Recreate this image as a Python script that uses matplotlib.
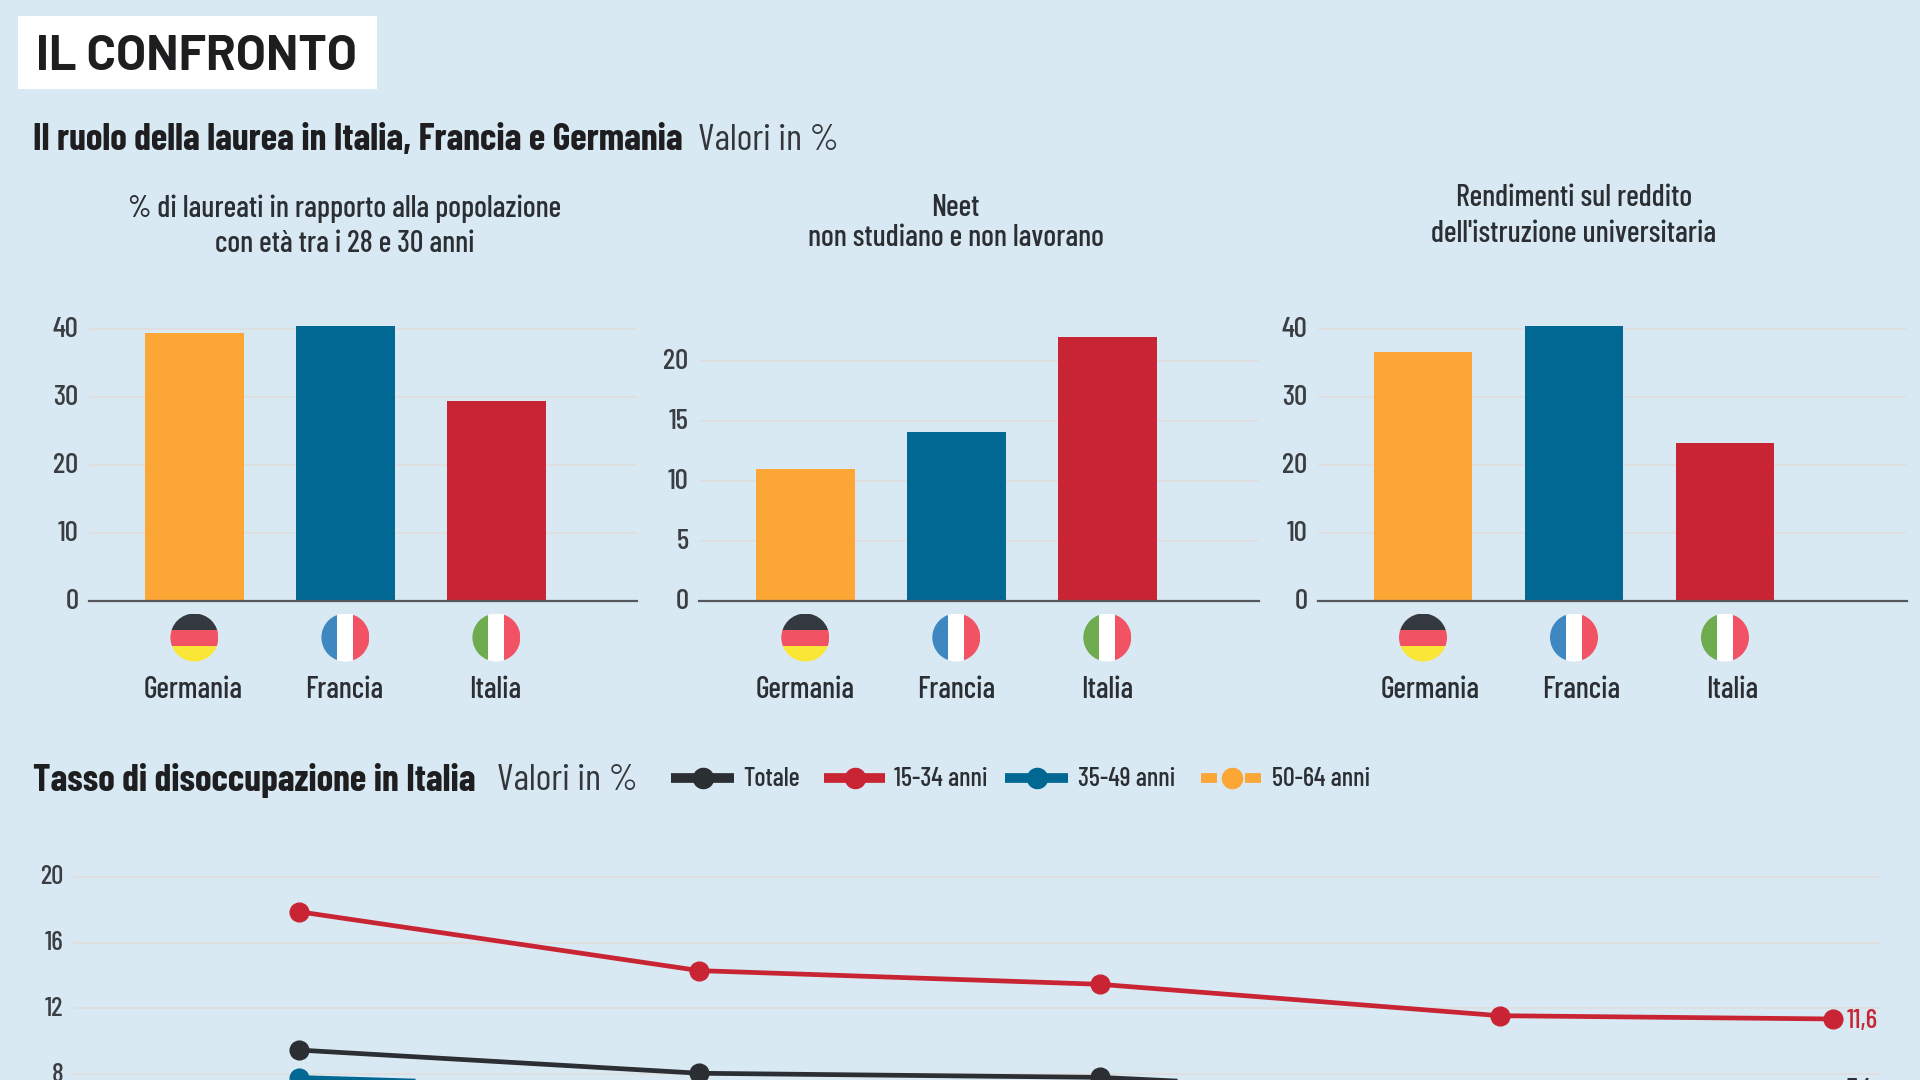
import matplotlib
matplotlib.use("Agg")
import matplotlib.pyplot as plt
from matplotlib.lines import Line2D
from matplotlib.patches import Circle, Rectangle
from matplotlib.transforms import ScaledTranslation

BODY = ["Barlow Condensed", "Roboto Condensed", "DejaVu Sans"]
HEAD = ["Barlow", "Inter", "DejaVu Sans"]

BG = "#D8E9F3"
ORANGE = "#FBA635"
BLUE = "#006893"
RED = "#C92433"
DARK = "#2B2E33"
GRID = "#DFDFE0"

countries = ["Germania", "Francia", "Italia"]
bar_colors = [ORANGE, BLUE, RED]

laureati = [39.4, 40.5, 29.4]
neet = [11.0, 14.1, 22.0]
rendimenti = [36.6, 40.5, 23.3]

laureati_ticks = [0, 10, 20, 30, 40]
neet_ticks = [0, 5, 10, 15, 20]
rendimenti_ticks = [0, 10, 20, 30, 40]

# months from the first reading, the x labels are cut off in the picture
periods = [0, 6, 12, 18, 23]
totale = [9.46, 8.05, 7.8, 6.63, 7.05]
anni_15_34 = [17.87, 14.29, 13.46, 11.55, 11.35]
anni_35_49 = [7.79, 7.05, 6.5, 5.8, 5.4]
anni_50_64 = [5.2, 4.8, 4.6, 4.0, 3.9]
line_ticks = [8, 12, 16, 20]
label_15_34 = "11,6"
label_totale = "7,4"

W, H = 1920, 1080

plt.rcParams["font.family"] = BODY
fig = plt.figure(figsize=(W / 100, H / 100), dpi=100, facecolor=BG)
raise_labels = ScaledTranslation(0, 1.4 / 72, fig.dpi_scale_trans)


def axes_px(x0, x1, y_top, y_bottom):
    a = fig.add_axes([x0 / W, 1 - y_bottom / H, (x1 - x0) / W, (y_bottom - y_top) / H])
    a.set_facecolor("none")
    for s in a.spines.values():
        s.set_visible(False)
    a.set_axisbelow(True)
    a.grid(axis="y", color=GRID, linewidth=1.4)
    a.set_xticks([])
    return a


def bar_panel(x0, x1, first_center, values, ticks, ymax, y_top, lab_pad):
    a = axes_px(x0, x1, y_top, 600.7)
    a.bar(range(3), values, width=0.655, color=bar_colors)
    a.set_xlim((x0 - first_center) / 151, (x1 - first_center) / 151)
    a.set_ylim(0, ymax)
    a.set_yticks(ticks)
    a.tick_params(axis="y", length=0, pad=lab_pad, labelsize=21, labelcolor="#3A3D42")
    for lab in a.get_yticklabels():
        lab.set_fontweight("medium")
        lab.set_transform(lab.get_transform() + raise_labels)
    a.spines["bottom"].set_visible(True)
    a.spines["bottom"].set_color("#55595E")
    a.spines["bottom"].set_linewidth(1.6)
    return a


ax1 = bar_panel(88.8, 636.6, 194.4, laureati, laureati_ticks, 44, 302.2, 7.5)
ax2 = bar_panel(699, 1258.7, 805.3, neet, neet_ticks, 24, 312.7, 7.5)
ax3 = bar_panel(1318, 1906.5, 1423, rendimenti, rendimenti_ticks, 44, 302.2, 7.5)

# line chart runs past the bottom edge of the picture, as in the reference
ax4 = axes_px(73, 1880, 868.5, 1080)
ax4.set_xlim(-3.39, 23.7)
ax4.set_ylim(7.64, 20.5)
ax4.set_yticks(line_ticks)
ax4.tick_params(axis="y", length=0, pad=7, labelsize=19.5, labelcolor="#3A3D42")
for lab in ax4.get_yticklabels():
    lab.set_fontweight("medium")
    lab.set_clip_on(False)
    lab.set_transform(lab.get_transform() + raise_labels)
ax4.plot(periods, anni_50_64, color=ORANGE, lw=3.4, marker="o", ms=13.5, ls=(0, (3, 2)))
ax4.plot(periods, anni_35_49, color=BLUE, lw=3.4, marker="o", ms=13.5)
ax4.plot(periods, totale, color=DARK, lw=3.4, marker="o", ms=13.5)
ax4.plot(periods, anni_15_34, color=RED, lw=3.4, marker="o", ms=13.5)
ax4.annotate(label_15_34, (periods[-1], anni_15_34[-1]), xytext=(9.5, -1.5), textcoords="offset points",
             color=RED, fontsize=19.5, fontweight="medium", va="center", annotation_clip=False)
ax4.annotate(label_totale, (periods[-1], totale[-1]), xytext=(9.5, 0), textcoords="offset points",
             color=DARK, fontsize=19.5, fontweight="medium", va="center", annotation_clip=False)

# overlay in picture pixels for header, flags and legend
ov = fig.add_axes([0, 0, 1, 1], zorder=5)
ov.set_xlim(0, W)
ov.set_ylim(H, 0)
ov.axis("off")

ov.add_patch(Rectangle((18, 16), 359, 72.7, color="white", lw=0))
ov.text(36, 56.5, "IL CONFRONTO", family=HEAD, fontsize=35, fontweight="bold", color="#1E1E20", va="center")

ov.text(33, 140, "Il ruolo della laurea in Italia, Francia e Germania", fontsize=27.1, fontweight="bold",
        color="#1E1E20", va="center")
ov.text(698, 140, "Valori in %", fontsize=27, color="#33363A", va="center")
ov.text(33, 780.5, "Tasso di disoccupazione in Italia", fontsize=27.1, fontweight="bold",
        color="#1E1E20", va="center")
ov.text(497, 780.5, "Valori in %", fontsize=27, color="#33363A", va="center")

panel_titles = [
    (345, [(208.5, "% di laureati in rapporto alla popolazione"), (244.5, "con età tra i 28 e 30 anni")]),
    (955.5, [(208.5, "Neet"), (238.5, "non studiano e non lavorano")]),
    (1574, [(198.5, "Rendimenti sul reddito"), (234.5, "dell'istruzione universitaria")]),
]
for cx, rows in panel_titles:
    for y, line in rows:
        ov.text(cx, y, line, fontsize=21.7, fontweight="medium", color=DARK, ha="center", va="center")


def flag(cx, cy, name, r=24):
    clip = Circle((cx, cy), r, transform=ov.transData)
    if name == "Germania":
        parts = [(cx - r, cy - r, 2 * r, 2 * r / 3, "#33393E"),
                 (cx - r, cy - r / 3, 2 * r, 2 * r / 3, "#F15364"),
                 (cx - r, cy + r / 3, 2 * r, 2 * r / 3, "#F9E637")]
    else:
        first = "#3F87C0" if name == "Francia" else "#6FAC50"
        parts = [(cx - r, cy - r, 2 * r / 3, 2 * r, first),
                 (cx - r / 3, cy - r, 2 * r / 3, 2 * r, "white"),
                 (cx + r / 3, cy - r, 2 * r / 3, 2 * r, "#F15364")]
    for x, y, w, h, c in parts:
        rect = Rectangle((x, y), w, h, color=c, lw=0)
        ov.add_patch(rect)
        rect.set_clip_path(clip)


panel_cats = [(194.4, 193), (805.3, 805), (1423, 1430)]
for bar_x, lab_x in panel_cats:
    for i, name in enumerate(countries):
        flag(bar_x + i * 151, 637.5, name)
        ov.text(lab_x + i * 151, 690.5, name, fontsize=21.5, fontweight="medium", color=DARK, ha="center", va="center")

legend_rows = [
    ("Totale", DARK, 671, 733.5, 702.7, 743.5),
    ("15-34 anni", RED, 824.4, 885, 855, 894),
    ("35-49 anni", BLUE, 1005, 1068, 1036.5, 1077.5),
]
for name, c, x0, x1, xm, xt in legend_rows:
    ov.add_line(Line2D([x0, x1], [778, 778], color=c, lw=7, solid_capstyle="butt"))
    ov.add_line(Line2D([xm], [778], color=c, marker="o", ms=14.5, ls="none"))
    ov.text(xt, 779.5, name, fontsize=18.8, fontweight="medium", color=DARK, va="center")
ov.add_line(Line2D([1201, 1217], [778, 778], color=ORANGE, lw=7, solid_capstyle="butt"))
ov.add_line(Line2D([1245, 1261], [778, 778], color=ORANGE, lw=7, solid_capstyle="butt"))
ov.add_line(Line2D([1231.6], [778], color=ORANGE, marker="o", ms=14.5, ls="none"))
ov.text(1272, 779.5, "50-64 anni", fontsize=18.8, fontweight="medium", color=DARK, va="center")

fig.savefig("out.png", dpi=100, facecolor=BG)
